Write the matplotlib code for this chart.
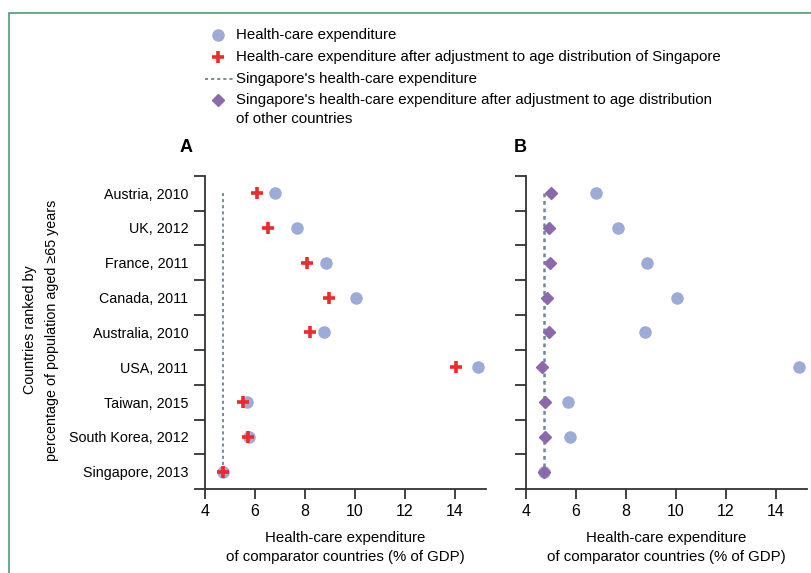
import numpy as np
import matplotlib
matplotlib.use('Agg')
from matplotlib import pyplot as plt
from matplotlib.lines import Line2D
from matplotlib.patches import Rectangle

plt.rcParams['font.family'] = ['Liberation Sans', 'DejaVu Sans']

countries = ['Austria, 2010', 'UK, 2012', 'France, 2011', 'Canada, 2011',
             'Australia, 2010', 'USA, 2011', 'Taiwan, 2015',
             'South Korea, 2012', 'Singapore, 2013']
hce = [6.8, 7.67, 8.85, 10.06, 8.77, 14.92, 5.69, 5.76, 4.72]
hce_adj = [6.1, 6.52, 8.1, 8.95, 8.19, 14.03, 5.51, 5.73, 4.72]
sg_adj = [5.0, 4.91, 4.95, 4.83, 4.93, 4.64, 4.76, 4.76, 4.73]
sg_hce = 4.72
xticks = [4, 6, 8, 10, 12, 14]

c_circ = '#9DACD6'
c_plus = '#EE2A2A'
c_diam = '#8C68AC'
c_dash = '#4D6D80'
fs = 10.3
fs_leg = 10.8

fig = plt.figure(figsize=(8.11, 5.73), dpi=100)

# green frame
fig.add_artist(Rectangle((0.0105, -0.05), 1.2, 1.027, transform=fig.transFigure,
                         fill=False, edgecolor='#45A077', lw=1.2))

axA = fig.add_axes([0.2528, 0.1463, 0.3465, 0.547])
axB = fig.add_axes([0.6486, 0.1463, 0.3465, 0.547])
y = np.arange(len(countries))

for ax in (axA, axB):
    ax.set_xlim(4, 15.25)
    ax.set_ylim(8.5, -0.5)
    ax.spines['top'].set_visible(False)
    ax.spines['right'].set_visible(False)
    for s in ('left', 'bottom'):
        ax.spines[s].set_linewidth(1.3)
        ax.spines[s].set_color('#333333')
    ax.set_xticks(xticks)
    ax.set_yticks(np.arange(-0.5, 9, 1), minor=False)
    ax.set_yticklabels([])
    ax.tick_params(axis='y', length=8, width=1.3, color='#333333')
    ax.tick_params(axis='x', length=7, width=1.3, color='#333333', labelsize=11.5, pad=4)
    ax.set_yticks(y, minor=True)
    ax.tick_params(axis='y', which='minor', length=0, labelsize=fs, pad=12)
    ax.set_xlabel('Health-care expenditure\nof comparator countries (% of GDP)',
                  fontsize=fs_leg, labelpad=8, linespacing=1.5)

axA.set_yticklabels(countries, minor=True)

# panel A
axA.plot([sg_hce, sg_hce], [0, 8], color=c_dash, lw=1.1, ls=(0, (2, 2)), zorder=1)
axA.plot(hce, y, 'o', color=c_circ, ms=8, ls='none', zorder=2)
axA.plot(hce_adj, y, '+', color=c_plus, ms=9, mew=2.6, ls='none', zorder=3)

# panel B
axB.plot([sg_hce, sg_hce], [0, 8], color='#708896', lw=1.8, ls=(0, (1.5, 1.5)), zorder=1)
axB.plot(hce, y, 'o', color=c_circ, ms=8, ls='none', zorder=2)
axB.plot(sg_adj, y, 'D', color=c_diam, ms=6.5, ls='none', zorder=3)

fig.text(180 / 811, 1 - 148 / 573, 'A', fontsize=13, fontweight='bold', va='center', ha='left')
fig.text(514 / 811, 1 - 148 / 573, 'B', fontsize=13, fontweight='bold', va='center', ha='left')

fig.text(41 / 811, 1 - 330 / 573,
         'Countries ranked by\npercentage of population aged \u226565 years',
         rotation=90, ha='center', va='center', fontsize=fs, linespacing=1.7)

# legend drawn by hand
lx = 218 / 811
tx = 236 / 811
rows = [35, 57, 79, 100]
fig.add_artist(Line2D([lx], [1 - rows[0] / 573], marker='o', color=c_circ, ms=8,
                      transform=fig.transFigure))
fig.add_artist(Line2D([lx], [1 - rows[1] / 573], marker='+', color=c_plus, ms=9, mew=2.6,
                      transform=fig.transFigure))
fig.add_artist(Line2D([205 / 811, 233 / 811], [1 - rows[2] / 573] * 2, color=c_dash,
                      lw=1.1, ls=(0, (2, 2)), transform=fig.transFigure))
fig.add_artist(Line2D([lx], [1 - rows[3] / 573], marker='D', color=c_diam, ms=6.5,
                      transform=fig.transFigure))
labels = ['Health-care expenditure',
          'Health-care expenditure after adjustment to age distribution of Singapore',
          "Singapore's health-care expenditure",
          "Singapore's health-care expenditure after adjustment to age distribution"]
for r, t in zip(rows, labels):
    fig.text(tx, 1 - r / 573, t, fontsize=fs_leg, va='center', ha='left')
fig.text(tx, 1 - 119 / 573, 'of other countries', fontsize=fs_leg, va='center', ha='left')

fig.savefig('out.png', dpi=100)
